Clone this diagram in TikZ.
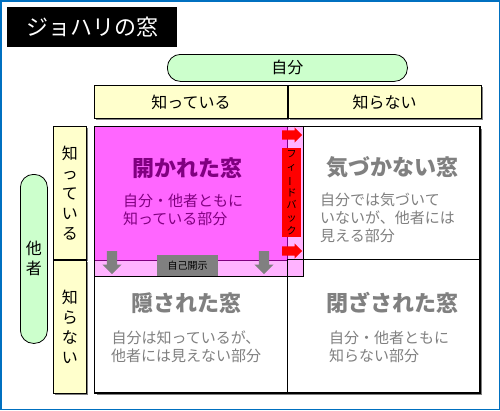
\documentclass[tikz,border=0pt]{standalone}
\usepackage{fontspec}
\setmainfont{Noto Sans CJK JP}
\usepackage{graphicx}
\usepackage{tikz}
\usetikzlibrary{positioning, shadows, shapes.arrows}
\usepackage{xcolor}
\definecolor{frameBlue}{RGB}{0, 112, 192}
\definecolor{headYellow}{RGB}{255, 255, 204}
\definecolor{sideGreen}{RGB}{204, 255, 204}
\definecolor{openMagenta}{RGB}{255, 102, 255}
\definecolor{openPink}{RGB}{255, 179, 255}
\definecolor{openPurple}{RGB}{128, 0, 128}
\definecolor{textGray}{RGB}{128, 128, 128}
\definecolor{feedRed}{RGB}{255, 0, 0}
\newcommand{\tatebou}{\rotatebox[origin=c]{90}{ー}}

\begin{document}
\begin{tikzpicture}[
    x=1pt, y=-1pt,
    titlebox/.style={rectangle, fill=black, text=white, inner sep=0pt,
        font=\fontsize{22}{26}\selectfont},
    header/.style={
        rectangle, draw=black, fill=headYellow, line width=0.8pt, inner sep=0pt,
        align=center, font=\fontsize{16}{20}\selectfont,
        drop shadow={shadow xshift=2pt, shadow yshift=-2pt, fill=black!50, opacity=1}
    },
    side/.style={rectangle, rounded corners=13pt, draw=black, fill=sideGreen,
        line width=0.8pt, inner sep=0pt, align=center, font=\fontsize{16}{20}\selectfont},
    area/.style={rectangle, draw=#1, line width=0.8pt, inner sep=0pt, anchor=north west},
    wintitle/.style={font=\fontsize{22}{26}\selectfont\bfseries, text=#1, inner sep=0pt},
    wintext/.style={font=\fontsize{15}{18}\selectfont, text=#1, align=left, anchor=west, inner sep=0pt},
    fbarrow/.style={single arrow, fill=feedRed, inner sep=4.5pt, minimum height=20pt,
        single arrow head extend=3pt, anchor=tail},
    sdarrow/.style={single arrow, fill=textGray, inner sep=5pt, minimum height=23pt,
        single arrow head extend=4.5pt, rotate=-90, anchor=tail},
    smallbox/.style={rectangle, fill=#1, inner sep=0pt, align=center,
        font=\fontsize{10}{12.7}\selectfont}
]
\useasboundingbox (0,0) rectangle (500,410);
\draw[frameBlue, line width=1.5pt] (0.75,0.75) rectangle (499.25,409.25);

\node[titlebox, minimum width=170pt, minimum height=40pt, anchor=north west] (title) at (7,7) {ジョハリの窓};

% axes
\node[side, minimum width=240pt, minimum height=27pt, anchor=north west] (self) at (167,54) {自分};
\node[header, minimum width=193pt, minimum height=33pt, anchor=north west] (colknown) at (94,85) {知っている};
\node[header, minimum width=193pt, minimum height=33pt, right=0pt of colknown] (colunknown) {知らない};
\node[side, minimum width=27pt, minimum height=169pt, anchor=north west] (others) at (20,174) {他\\者};
\node[header, minimum width=33pt, minimum height=133pt, anchor=north west] (rowknown) at (53,126) {知\\っ\\て\\い\\る};
\node[header, minimum width=33pt, minimum height=133pt, below=0pt of rowknown] (rowunknown) {知\\ら\\な\\い};

% window
\node[area=black, fill=white, line width=1pt, minimum width=385pt, minimum height=266pt,
      drop shadow={shadow xshift=2pt, shadow yshift=-2pt, fill=black!50, opacity=1}] (grid) at (94,126) {};
\node[area=black, fill=openPink, line width=0.6pt, minimum width=209pt, minimum height=150pt] (disclosed) at (94,126) {};
\node[area=openPurple, fill=openMagenta, line width=1pt, minimum width=193pt, minimum height=134pt] (openwin) at (94,126) {};
\coordinate (mid) at (287,259);
\draw[line width=0.8pt] (mid) -- (mid -| grid.east);
\draw[line width=0.8pt] (mid) -- (mid |- grid.south);
\draw[line width=1pt] (grid.north west) rectangle (grid.south east);

% feedback / self-disclosure
\node[smallbox=feedRed, minimum width=19pt, minimum height=89pt, anchor=north west] (feedback) at (282,148) {フ\\ィ\\\tatebou\\ド\\バ\\ッ\\ク};
\node[fbarrow] (fbtop) at (282,135) {};
\node[fbarrow] (fbbottom) at (282,251) {};
\node[sdarrow] (sdleft) at (112,251) {};
\node[sdarrow] (sdright) at (264,251) {};
\node[smallbox=textGray, minimum width=61pt, minimum height=21pt, anchor=north west] (disclosure) at (157,255) {自己開示};

% texts
\node[wintitle=openPurple] (opentitle) at (187,168) {開かれた窓};
\node[wintext=openPurple] (opentext) at (123,210) {自分・他者ともに\\知っている部分};
\node[wintitle=textGray] (blindtitle) at (392,167) {気づかない窓};
\node[wintext=textGray] (blindtext) at (320,218) {自分では気づいて\\いないが、他者には\\見える部分};
\node[wintitle=textGray] (hiddentitle) at (186,303) {隠された窓};
\node[wintext=textGray, align=center, anchor=center] (hiddentext) at (186,347) {自分は知っているが、\\他者には見えない部分};
\node[wintitle=textGray] (closedtitle) at (392,303) {閉ざされた窓};
\node[wintext=textGray] (closedtext) at (329,347) {自分・他者ともに\\知らない部分};
\end{tikzpicture}
\end{document}
